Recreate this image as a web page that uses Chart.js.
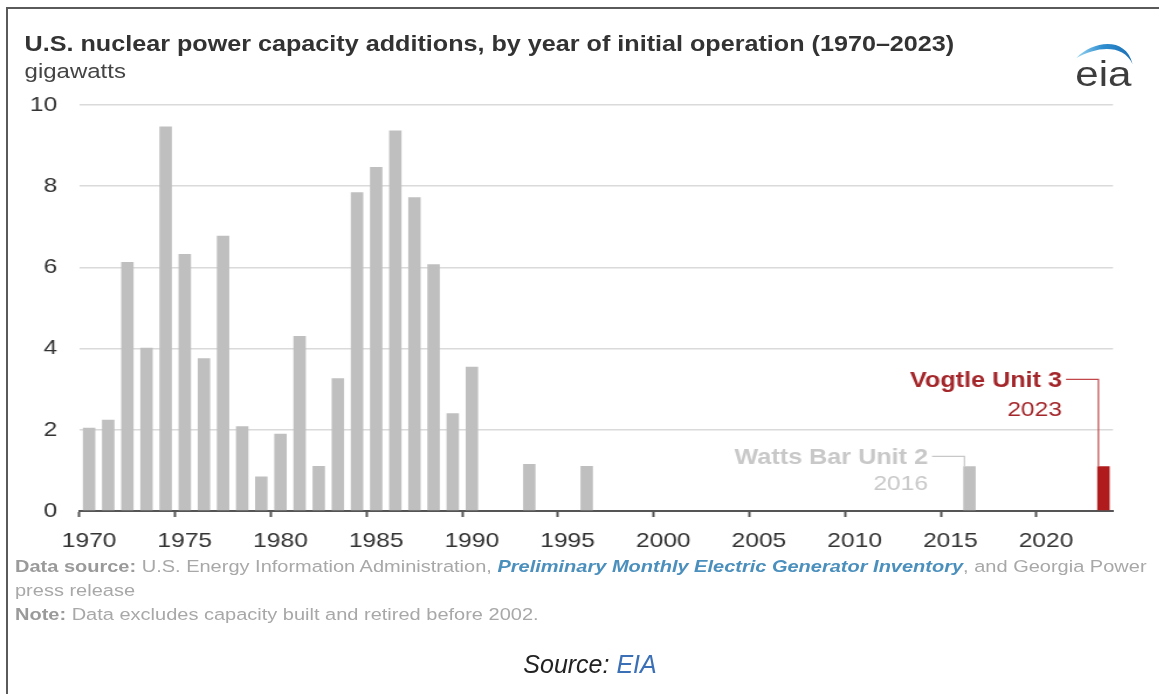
<!DOCTYPE html>
<html>
<head>
<meta charset="utf-8">
<script src="https://cdn.jsdelivr.net/npm/chart.js@4.4.1/dist/chart.umd.min.js"></script>
<style>
  html, body { margin: 0; padding: 0; background: #fff; }
  body { width: 1159px; height: 694px; position: relative; overflow: hidden;
         font-family: 'Liberation Sans', Arial, Helvetica, sans-serif; }
  #frame { position: absolute; left: 6px; top: 7px; right: -10px; bottom: -10px;
           border-left: 2px solid #5a5a5a; border-top: 2px solid #5a5a5a; }
  /* the graphic is laid out narrow and widened as a whole */
  #stage { position: absolute; left: 0; top: 0; width: 991px; height: 694px;
           transform: scaleX(1.17); transform-origin: 0 0; }
  #stage canvas { position: absolute; left: 0; top: 0; }
  .t { position: absolute; white-space: nowrap; line-height: 1; }
  #title { left: 21px; top: 34px; font-size: 21.5px; font-weight: bold; color: #333; }
  #unit { left: 21px; top: 61px; font-size: 20.5px; color: #444; }
  #notes { left: 12.8px; top: 555px; font-size: 17.1px; color: #a8a8a8; line-height: 24px; }
  #notes b { color: #9a9a9a; }
  #notes i { color: #4b8fbd; font-weight: bold; }
  #logo { position: absolute; left: 916px; top: 36px; }
  #caption { position: absolute; left: 0; width: 1180px; top: 652px; text-align: center;
             font-size: 25px; font-style: italic; color: #222; line-height: 1; }
  #caption span { color: #3b6fb6; }
</style>
</head>
<body>
<div id="frame"></div>
<div id="stage">
  <canvas id="chart" width="991" height="694"></canvas>
  <div id="title" class="t">U.S. nuclear power capacity additions, by year of initial operation (1970–2023)</div>
  <div id="unit" class="t">gigawatts</div>
  <svg id="logo" width="70" height="60" viewBox="0 0 70 60">
    <defs>
      <linearGradient id="sw" x1="0" y1="0" x2="1" y2="0">
        <stop offset="0" stop-color="#9ad6f2"/>
        <stop offset="0.45" stop-color="#2f8fd0"/>
        <stop offset="1" stop-color="#1a6fb5"/>
      </linearGradient>
    </defs>
    <path d="M4,22 C18,5 46,0 52,28 C44,8 22,10 4,22 Z" fill="url(#sw)"/>
    <text x="3" y="50" font-family="Liberation Sans, Arial, sans-serif" font-size="36" fill="#3d3d3d">eia</text>
  </svg>
  <div id="notes" class="t"><b>Data source:</b> U.S. Energy Information Administration, <i>Preliminary Monthly Electric Generator Inventory</i>, and Georgia Power<br>press release<br><b>Note:</b> Data excludes capacity built and retired before 2002.</div>
</div>
<div id="caption">Source: <span>EIA</span></div>

<script>
// Year of initial operation
const years = [
  1970, 1971, 1972, 1973, 1974, 1975, 1976, 1977, 1978, 1979,
  1980, 1981, 1982, 1983, 1984, 1985, 1986, 1987, 1988, 1989,
  1990, 1991, 1992, 1993, 1994, 1995, 1996, 1997, 1998, 1999,
  2000, 2001, 2002, 2003, 2004, 2005, 2006, 2007, 2008, 2009,
  2010, 2011, 2012, 2013, 2014, 2015, 2016, 2017, 2018, 2019,
  2020, 2021, 2022, 2023
];

// Capacity added that year, gigawatts (null = no additions)
const capacityGW = [
  2.05, 2.25, 6.13, 4.02, 9.47, 6.33, 3.76, 6.78, 2.09, 0.85,
  1.90, 4.31, 1.11, 3.27, 7.85, 8.47, 9.37, 7.73, 6.08, 2.41,
  3.55, null, null, 1.16, null, null, 1.11, null, null, null,
  null, null, null, null, null, null, null, null, null, null,
  null, null, null, null, null, null, 1.10, null, null, null,
  null, null, null, 1.10
];

const yTicks = [0, 2, 4, 6, 8, 10];

// Labelled units
const calloutUnits = ['Vogtle Unit 3', 'Watts Bar Unit 2'];
const calloutYears = [2023, 2016];

const FONT = "'Liberation Sans', Arial, Helvetica, sans-serif";
const GRAY = '#bfbfbf';
const RED = '#b01c1e';

const calloutStyle = {
  2023: { text: '#a3262a', line: '#c2474a', nameDy: -85, yearDy: -56 },
  2016: { text: '#c8c8c8', line: '#c8c8c8', nameDy: -8, yearDy: 18 }
};

const calloutPlugin = {
  id: 'callouts',
  afterDatasetsDraw(chart) {
    const ctx = chart.ctx;
    const meta = chart.getDatasetMeta(0);
    ctx.save();
    calloutUnits.forEach((name, k) => {
      const yr = calloutYears[k];
      const bar = meta.data[years.indexOf(yr)];
      const st = calloutStyle[yr];
      const textRight = bar.x - 35.5;
      const nameY = bar.y + st.nameDy;
      const yearY = bar.y + st.yearDy;
      ctx.textAlign = 'right';
      ctx.textBaseline = 'middle';
      ctx.fillStyle = st.text;
      ctx.font = 'bold 21.5px ' + FONT;
      ctx.fillText(name, textRight, nameY);
      ctx.font = '21px ' + FONT;
      ctx.fillText(String(yr), textRight, yearY);
      // leader line from the label down to the top of the bar
      const lx = bar.x - bar.width / 2 + 1;
      const ly = nameY - 2;
      ctx.strokeStyle = st.line;
      ctx.lineWidth = 1.2;
      ctx.beginPath();
      ctx.moveTo(textRight + 3.5, ly);
      ctx.lineTo(lx, ly);
      ctx.lineTo(lx, bar.y);
      ctx.stroke();
    });
    ctx.restore();
  }
};

new Chart(document.getElementById('chart'), {
  type: 'bar',
  data: {
    labels: years,
    datasets: [{
      data: capacityGW,
      backgroundColor: years.map(y => (y === 2023 ? RED : GRAY)),
      barPercentage: 0.65,
      categoryPercentage: 1.0
    }]
  },
  options: {
    responsive: false,
    animation: false,
    layout: { padding: { top: 105, left: 0, right: 39.7, bottom: 143 } },
    plugins: {
      legend: { display: false },
      tooltip: { enabled: false },
      title: { display: false }
    },
    scales: {
      x: {
        grid: {
          offset: true,
          drawOnChartArea: false,
          drawTicks: true,
          tickLength: 6,
          tickWidth: 2,
          tickColor: c => (c.tick && years[c.index] % 5 === 0) ? '#555' : 'rgba(0,0,0,0)'
        },
        border: { display: true, color: '#555', width: 2 },
        ticks: {
          autoSkip: false,
          maxRotation: 0,
          padding: 12,
          color: '#333',
          font: { family: FONT, size: 21 },
          callback: (v, i) => (years[i] % 5 === 0 ? String(years[i]) : '')
        },
        afterFit: s => { s.height = 40; }
      },
      y: {
        min: 0,
        max: 10,
        border: { display: false },
        grid: { color: '#dadada', lineWidth: 1.5, drawTicks: false },
        afterBuildTicks: s => { s.ticks = yTicks.map(v => ({ value: v })); },
        ticks: {
          padding: 19,
          color: '#333',
          font: { family: FONT, size: 21 }
        },
        afterFit: s => { s.width = 67.95; }
      }
    }
  },
  plugins: [calloutPlugin]
});
</script>
</body>
</html>
